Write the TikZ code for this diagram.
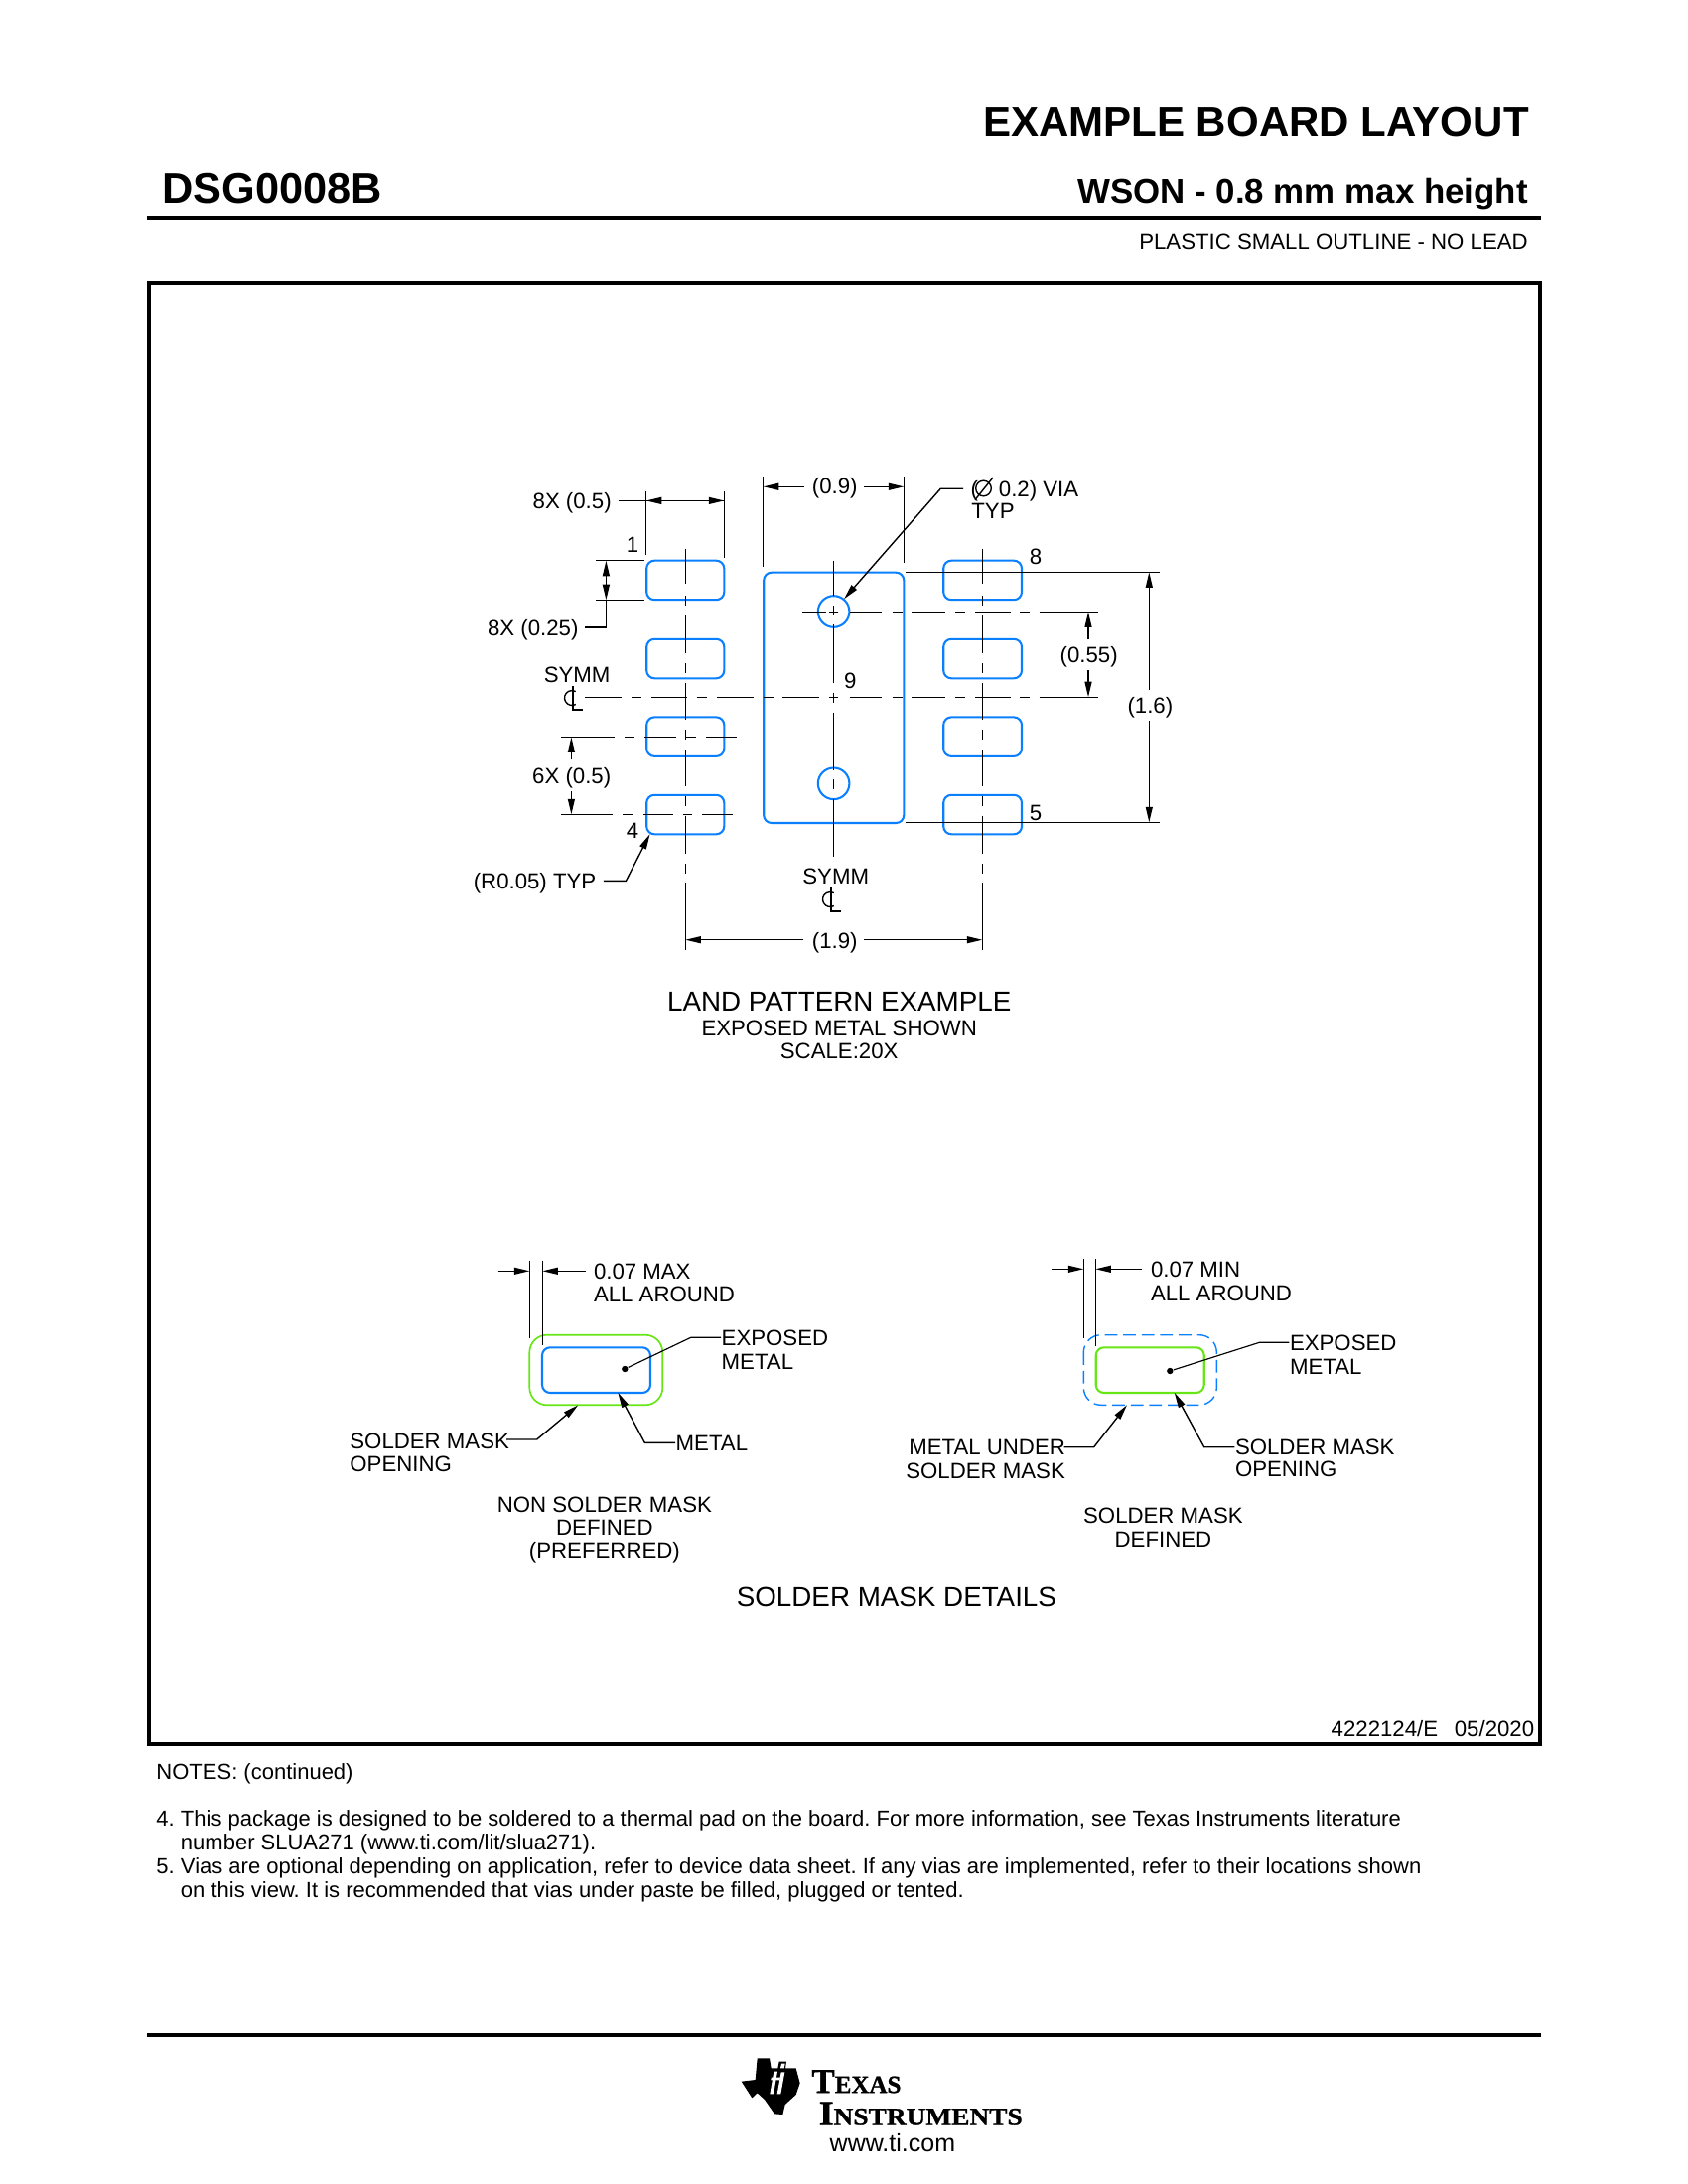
\documentclass[tikz,border=0pt]{standalone}
\usepackage{fontspec}
\setmainfont{Liberation Sans}
\newfontfamily\logofont[BoldFeatures={FakeBold=1.0}]{Liberation Serif}
\usetikzlibrary{arrows.meta}
\frenchspacing
\definecolor{padblue}{RGB}{10,128,255}
\definecolor{maskgreen}{RGB}{102,230,20}
\newcommand{\fsz}[1]{\fontsize{#1}{#1}\selectfont}
\newcommand{\clsym}[2]{%
  \draw[thinline] (#1+3.5,#2+6.5) arc[start angle=60,end angle=300,radius=7.5];
  \draw[thinline] (#1+0.5,#2-12) -- (#1+0.5,#2+12) -- (#1+11,#2+12);}
% centre-line pattern used on both vertical pad axes
\newcommand{\padaxis}[1]{%
  \foreach \a/\b in {553/588.3,600/610,620/658.3,668.3/678.3,687.7/725,735/745,755/791.7,801.7/811.7,821.7/860,870/880,889/957}
    \draw[thinline] (#1,\a) -- (#1,\b);}
\newcommand{\rightaxis}[1]{%
  \foreach \a/\b in {855.5/888.3,898.5/908.6,918/951.9,962/972.2,982.3/1017.8,1026.9/1037,1046.5/1105.7}
    \draw[thinline] (\a,#1) -- (\b,#1);}
\tikzset{
  thinline/.style={line width=0.5pt,black},
  lead/.style={line width=0.42pt,black},
  dimline/.style={line width=0.5pt,black,->,>={Triangle[length=5.6pt,width=2.5pt]}},
  padshape/.style={line width=0.75pt,padblue,rounded corners=2.85pt},
  viashape/.style={line width=0.75pt,padblue},
  txt/.style={inner sep=0pt,outer sep=0pt,font=\fsz{8},xshift=0.25pt,yshift=-0.29pt},
  tl/.style={txt,anchor=base west},
  tr/.style={txt,anchor=base east},
  tc/.style={txt,anchor=base},
  notetxt/.style={tl,font=\fsz{7.92}},
  dotmark/.style={circle,fill=black,inner sep=0pt,minimum size=2.3pt},
}
\begin{document}
\begin{tikzpicture}[x=0.36pt,y=-0.36pt]
\useasboundingbox (0,0) rectangle (1700,2200);
% ---------- header
\node[tr,font=\fsz{15.13}\bfseries] (title) at (1539,137) {EXAMPLE BOARD LAYOUT};
\node[tl,font=\fsz{15.6}\bfseries] (part) at (162.5,204) {DSG0008B};
\node[tr,font=\fsz{12.55}\bfseries] (pkg) at (1538,203.5) {WSON - 0.8 mm max height};
\node[tr] (desc) at (1538,250.2) {PLASTIC SMALL OUTLINE - NO LEAD};
\draw[line width=1.6pt] (148,220) -- (1552,220);
\draw[line width=1.45pt] (150,285) rectangle (1550.5,1757);
% ---------- pads
\foreach \y in {564.7,643.8,722.4,800.8}{
  \draw[padshape] (651.2,\y) rectangle (729.3,\y+39.5);
  \draw[padshape] (950.2,\y) rectangle (1029,\y+39.5);
}
\draw[padshape] (769.2,576.7) rectangle (910.3,829);
\draw[viashape] (839.6,616) circle[radius=15.8];
\draw[viashape] (839.6,789.3) circle[radius=15.8];
% ---------- centre lines
\padaxis{690.3}
\padaxis{989.3}
\foreach \a/\b in {565/600,610/620,629/688,698/708,718/776,785/795,805/863}
  \draw[thinline] (839.4,\a) -- (839.4,\b);
\foreach \a/\b in {808.2/831.9,835.2/844}
  \draw[thinline] (\a,616.4) -- (\b,616.4);
\rightaxis{616.4}
\foreach \a/\b in {589/625.6,635.8/645.9,656/691.6,701.7/711.8,722/759.2,768.6/779.5,787.9/825.1,835.2/844}
  \draw[thinline] (\a,702.3) -- (\b,702.3);
\rightaxis{702.3}
\foreach \a/\b in {565/619.3,629.3/639.3,649.3/680.7,690/700.7,711/742}
  \draw[thinline] (\a,742.4) -- (\b,742.4);
\foreach \a/\b in {565/616.7,627.3/637.3,648/678.3,688.3/697.3,707.3/738.3}
  \draw[thinline] (\a,820.3) -- (\b,820.3);
% ---------- extension lines
\draw[thinline] (650.7,495) -- (650.7,559);
\draw[thinline] (729.3,495) -- (729.3,562);
\draw[thinline] (768.7,480) -- (768.7,570.7);
\draw[thinline] (910.3,480) -- (910.3,567.3);
\draw[thinline] (600.4,564.7) -- (649,564.7);
\draw[thinline] (600.4,604.3) -- (649,604.3);
\draw[thinline] (912,576.3) -- (1167.7,576.3);
\draw[thinline] (912,828.3) -- (1167.7,828.3);
% ---------- dimensions
\node[tr] (d1) at (615,511.6) {8X (0.5)};
\draw[thinline] (622.5,504.4) -- (729.3,504.4);
\draw[dimline] (680,504.4) -- (650.7,504.4);
\draw[dimline] (700,504.4) -- (729.3,504.4);
\node[tc] (d2) at (840,496.5) {(0.9)};
\coordinate (d2l) at (810,490.3); \coordinate (d2r) at (870,490.3);
\draw[dimline] (d2l) -- (768.7,490.3);
\draw[dimline] (d2r) -- (910.3,490.3);
\node[tr] (d3) at (581.8,639.7) {8X (0.25)};
\draw[thinline] (589.3,632) -- (610.4,632) -- (610.4,604.3);
\draw[dimline] (610.4,600) -- (610.4,564.7);
\draw[dimline] (610.4,570) -- (610.4,604.3);
\node[tc] (d4) at (575,789) {6X (0.5)};
\draw[dimline] (575.4,765.4) -- (575.4,742.4);
\draw[dimline] (575.4,797.4) -- (575.4,820.3);
\node[tc] (d5) at (840,954.2) {(1.9)};
\draw[dimline] (809.3,946.7) -- (690.3,946.7);
\draw[dimline] (870,946.7) -- (989.3,946.7);
\node[tc] (d6) at (1096,666.8) {(0.55)};
\draw[dimline] (1096,644) -- (1096,616.4);
\draw[dimline] (1096,675) -- (1096,702.3);
\node[tc] (d7) at (1157.7,717.5) {(1.6)};
\draw[dimline] (1157.3,695) -- (1157.3,576.3);
\draw[dimline] (1157.3,726) -- (1157.3,828.3);
% ---------- pin and pad numbers
\node[tc] (p1) at (636.4,555.7) {1};
\node[tc] (p4) at (636.4,843.6) {4};
\node[tc] (p5) at (1042.3,825.5) {5};
\node[tc] (p8) at (1042.3,567.7) {8};
\node[tc] (p9) at (855.7,692.7) {9};
% ---------- via callout
\node[tl] (v1) at (977,499.2) {(};
\draw[thinline] (990.5,492) circle[radius=7.8];
\draw[thinline] (982,503.5) -- (1000,481);
\node[tl] (v2) at (1005.2,499.2) {0.2) VIA};
\node[tl] (v3) at (977.7,522) {TYP};
\draw[dimline] (970,492.3) -- (947.3,492.3) -- (850,603.3);
% ---------- radius callout
\node[tr] (r1) at (599.6,894.6) {(R0.05) TYP};
\draw[dimline] (607.9,887.3) -- (630.4,887.3) -- (654.6,840.1);
% ---------- symmetry marks
\node[tc] (s1) at (580.4,686.2) {SYMM};
\clsym{576.3}{703}
\node[tc] (s2) at (841,889.5) {SYMM};
\clsym{836.3}{906}
% ---------- view title
\node[tc,font=\fsz{10}] (t1) at (844.5,1017.7) {LAND PATTERN EXAMPLE};
\node[tc] (t2) at (844.5,1042.7) {EXPOSED METAL SHOWN};
\node[tc] (t3) at (844.5,1065.5) {SCALE:20X};
% ---------- non solder mask defined
\draw[line width=0.6pt,maskgreen,rounded corners=6.3pt] (533.3,1344.7) rectangle (667.3,1415.3);
\draw[line width=0.75pt,padblue,rounded corners=2.9pt] (546,1357.3) rectangle (655,1403);
\draw[thinline] (533.3,1270) -- (533.3,1348.3);
\draw[thinline] (546.3,1270) -- (546.3,1355);
\draw[dimline] (501.7,1280.3) -- (533.3,1280.3);
\draw[dimline] (590,1280.3) -- (546.3,1280.3);
\node[tl] (a1) at (597.3,1287.6) {0.07 MAX};
\node[tl] (a2) at (597.3,1311) {ALL AROUND};
\node[dotmark] (a3) at (629.3,1379) {};
\node[tl] (a4) at (726,1354.3) {EXPOSED};
\node[tl] (a5) at (726,1378.3) {METAL};
\draw[lead] (a3) -- (695.7,1347.3) -- (726,1347.3);
\node[tl] (a6) at (351.7,1458.3) {SOLDER MASK};
\node[tl] (a7) at (351.7,1481.7) {OPENING};
\draw[dimline] (510,1450) -- (540.7,1450) -- (582.3,1415.3);
\node[tl] (a8) at (680,1460.7) {METAL};
\draw[dimline] (680,1453.3) -- (649.3,1453.3) -- (622.3,1402.7);
\node[tc] (a9) at (608.2,1522.6) {NON SOLDER MASK};
\node[tc] (a10) at (608.2,1545.7) {DEFINED};
\node[tc] (a11) at (608.2,1568.5) {(PREFERRED)};
% ---------- solder mask defined
\draw[line width=0.5pt,padblue,dash pattern=on 4.6pt off 2.1pt,rounded corners=6.3pt] (1091.3,1344.7) rectangle (1225.3,1415.3);
\draw[line width=0.75pt,maskgreen,rounded corners=2.9pt] (1103.7,1357.3) rectangle (1212.7,1403);
\draw[thinline] (1091.3,1268.3) -- (1091.3,1348.3);
\draw[thinline] (1103.3,1268.3) -- (1103.3,1356);
\draw[dimline] (1059,1278.3) -- (1091.3,1278.3);
\draw[dimline] (1150,1278.3) -- (1103.3,1278.3);
\node[tl] (b1) at (1158.3,1285.3) {0.07 MIN};
\node[tl] (b2) at (1158.3,1309.3) {ALL AROUND};
\node[dotmark] (b3) at (1178.3,1381) {};
\node[tl] (b4) at (1298.3,1359.3) {EXPOSED};
\node[tl] (b5) at (1298.3,1383.3) {METAL};
\draw[lead] (b3) -- (1268.3,1352.3) -- (1298.3,1352.3);
\node[tr] (b6) at (1072.2,1464.3) {METAL UNDER};
\node[tr] (b7) at (1072.2,1488.3) {SOLDER MASK};
\draw[dimline] (1071.7,1457.7) -- (1101.7,1457.7) -- (1135,1415.3);
\node[tl] (b8) at (1243.3,1464.3) {SOLDER MASK};
\node[tl] (b9) at (1243.3,1487) {OPENING};
\draw[dimline] (1243.3,1457.7) -- (1212.7,1457.7) -- (1182.7,1402.7);
\node[tc] (b10) at (1170.7,1533.3) {SOLDER MASK};
\node[tc] (b11) at (1170.7,1557.3) {DEFINED};
\node[tc,font=\fsz{10}] (t4) at (902.2,1617.5) {SOLDER MASK DETAILS};
\node[tr] (docno) at (1544.5,1748.7) {4222124/E\hspace{6pt}05/2020};
% ---------- notes
\node[notetxt] (n0) at (156.8,1792) {NOTES: (continued)};
\node[notetxt] (n1) at (156.8,1838.8) {4.};
\node[notetxt] (n1a) at (181.3,1838.8) {This package is designed to be soldered to a thermal pad on the board. For more information, see Texas Instruments literature};
\node[notetxt] (n2) at (181.3,1862.8) {number SLUA271 (www.ti.com/lit/slua271).};
\node[notetxt] (n3) at (156.8,1886.2) {5.};
\node[notetxt] (n3a) at (181.3,1886.2) {Vias are optional depending on application, refer to device data sheet. If any vias are implemented, refer to their locations shown};
\node[notetxt] (n4) at (181.3,1910.2) {on this view. It is recommended that vias under paste be filled, plugged or tented.};
% ---------- footer
\draw[line width=1.6pt] (148,2050) -- (1552,2050);
\begin{scope}[shift={(720,2030)},x=0.12pt,y=-0.12pt]
  \fill[black] (128,130) -- (165,130) -- (170,160) -- (190,160) -- (194,140) -- (216,140) -- (213,160) -- (245,160)
    -- (257,205) -- (245,240) -- (212,270) -- (205,300) -- (180,298) -- (150,255) -- (128,235) -- (112,250) -- (80,200)
    -- (122,195) -- cycle;
  \fill[white] (178,170) -- (189,170) -- (177,238) -- (166,238) -- cycle;
  \fill[white] (170,188) -- (198,188) -- (196,196) -- (169,196) -- cycle;
  \fill[white] (200,172) -- (211,172) -- (199,238) -- (188,238) -- cycle;
  \fill[white] (201,146) -- (212,146) -- (209,160) -- (198,160) -- cycle;
\end{scope}
\node[txt,anchor=base west,font=\logofont\bfseries] (l1) at (816.7,2107.3) {{\fsz{12.6}T}{\fsz{9}EXAS}};
\node[txt,anchor=base west,font=\logofont\bfseries] (l2) at (824,2139.7) {\scalebox{1.095}[1]{{\fsz{12.6}I}{\fsz{9}NSTRUMENTS}}};
\node[txt,anchor=base west,font=\fsz{9}] (l3) at (835,2166.2) {www.ti.com};
\end{tikzpicture}
\end{document}
